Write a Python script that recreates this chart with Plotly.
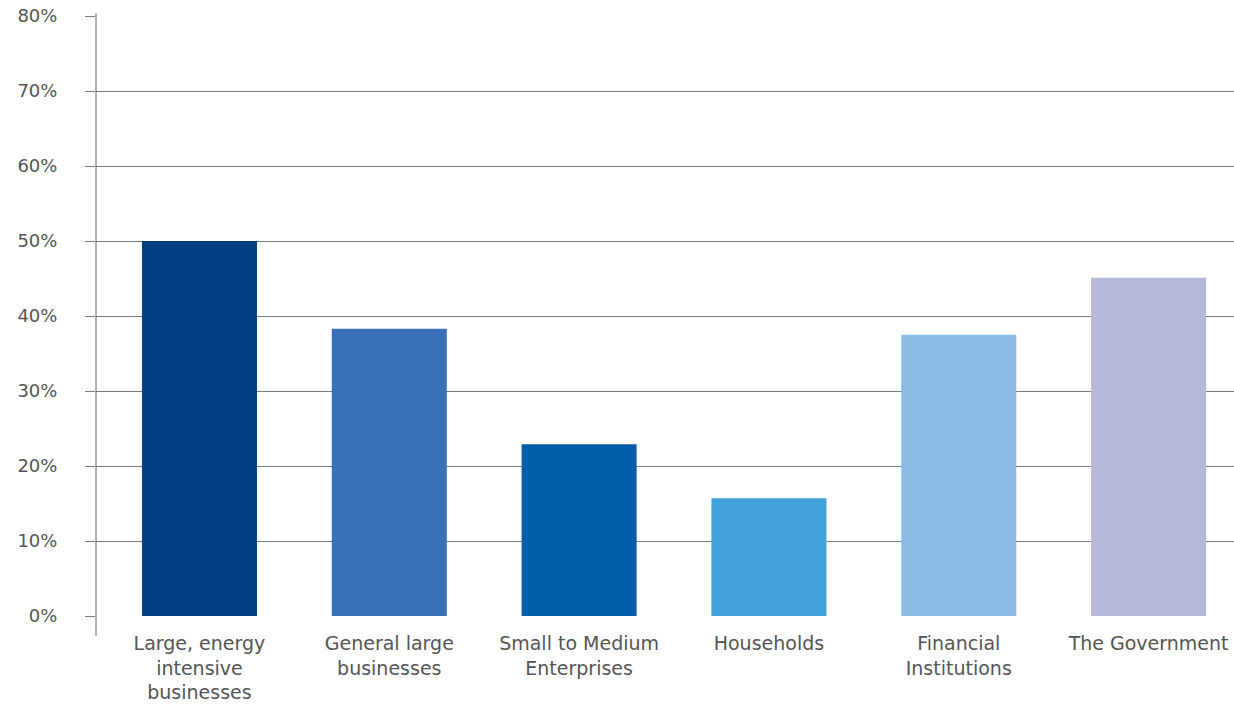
import plotly.graph_objects as go

categories = ["Large, energy<br>intensive<br>businesses", "General large<br>businesses",
              "Small to Medium<br>Enterprises", "Households", "Financial<br>Institutions",
              "The Government"]
values = [50.0, 38.3, 22.9, 15.7, 37.5, 45.1]
colors = ["#003F83", "#3A70B8", "#005DA9", "#42A0DA", "#8ABAE5", "#B5B9D9"]
tick_vals = [0, 10, 20, 30, 40, 50, 60, 70, 80]
tick_text = ["0%", "10%", "20%", "30%", "40%", "50%", "60%", "70%", "80%"]

fig = go.Figure(go.Bar(x=list(range(len(categories))), y=values, marker_color=colors,
                       marker_line_width=0, width=0.606, hoverinfo="skip"))

fig.update_layout(
    width=1234, height=704,
    margin=dict(l=96, r=0, t=15, b=88),
    plot_bgcolor="white", paper_bgcolor="white",
    font=dict(family="DejaVu Sans, sans-serif", size=18, color="#555555"),
    showlegend=False,
)
fig.update_xaxes(range=[-0.545, 5.45], tickmode="array", tickvals=list(range(len(categories))),
                 ticktext=categories, showgrid=False, zeroline=False, showline=False,
                 ticks="", ticklabelstandoff=14, automargin=False,
                 tickfont=dict(size=19, color="#555555"))
fig.update_yaxes(range=[0, 80.133], tickmode="array", tickvals=tick_vals, ticktext=tick_text,
                 showgrid=True, gridcolor="#7a7a7a", gridwidth=1, zeroline=False,
                 showline=False, ticks="outside", ticklen=10, tickcolor="#7a7a7a",
                 ticklabelstandoff=24, ticklabeloverflow="allow", automargin=False,
                 tickfont=dict(size=18, color="#555555"))
fig.add_shape(type="line", xref="paper", yref="paper", x0=0, x1=0, y0=-0.033, y1=1.003,
              line=dict(color="#606060", width=1))

fig.write_html("out.html", config={"displayModeBar": False},
               post_script="document.body.style.margin='0';document.body.style.overflow='hidden';")
